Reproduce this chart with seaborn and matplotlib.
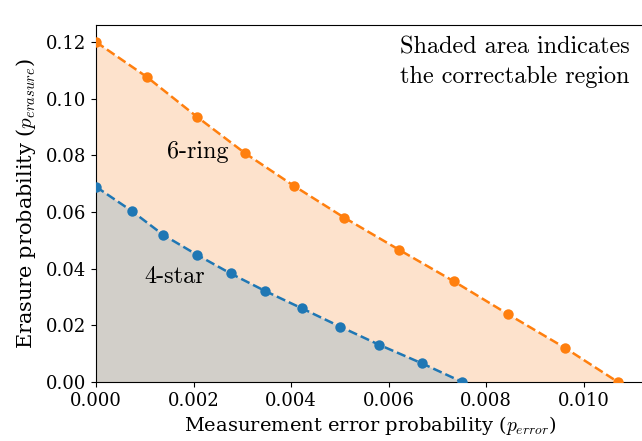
import numpy as np
import pandas as pd
import matplotlib
matplotlib.use("Agg")
import matplotlib.pyplot as plt
import seaborn as sns

# Data
ring_x = [0.0000, 0.00104, 0.00207, 0.00306, 0.00406, 0.00509, 0.00622, 0.00733, 0.00845, 0.00961, 0.0107]
ring_y = [0.1200, 0.1077, 0.0936, 0.0807, 0.0692, 0.0580, 0.0466, 0.0356, 0.0239, 0.0121, 0.0000]
star_x = [0.0000, 0.00073, 0.00138, 0.00208, 0.00276, 0.00347, 0.00422, 0.00501, 0.00581, 0.00668, 0.00751]
star_y = [0.0689, 0.0604, 0.0519, 0.0448, 0.0383, 0.0321, 0.0260, 0.0195, 0.0131, 0.0066, 0.0000]
labels = ["6-ring", "4-star"]
x_ticks = [0.000, 0.002, 0.004, 0.006, 0.008, 0.010]
y_ticks = [0.00, 0.02, 0.04, 0.06, 0.08, 0.10, 0.12]

plt.rcParams["font.family"] = ["DejaVu Serif"]
plt.rcParams["mathtext.fontset"] = "cm"

fig = plt.figure(figsize=(6.42, 4.41), dpi=100)
ax = fig.add_axes([96/642, 1-382/441, 548/642, (382-25)/441])

orange = "#ff7f0e"
blue = "#1f77b4"

ax.fill_between(ring_x, ring_y, 0, color="#fde2cc", lw=0, zorder=1)
ax.fill_between(star_x, star_y, 0, color="#d2cfc9", lw=0, zorder=1)

df_ring = pd.DataFrame({"x": ring_x, "y": ring_y})
df_star = pd.DataFrame({"x": star_x, "y": star_y})
sns.lineplot(data=df_ring, x="x", y="y", ax=ax, color=orange, linestyle="--",
             marker="o", markersize=7.5, markeredgewidth=0, lw=1.8, zorder=3)
sns.lineplot(data=df_star, x="x", y="y", ax=ax, color=blue, linestyle="--",
             marker="o", markersize=7.5, markeredgewidth=0, lw=1.8, zorder=3)

ax.set_xlim(0, 0.011235)
ax.set_ylim(0, 0.126)
ax.set_xticks(x_ticks)
ax.set_yticks(y_ticks)
ax.set_xticklabels([f"{v:.3f}" for v in x_ticks])
ax.set_yticklabels([f"{v:.2f}" for v in y_ticks])
ax.tick_params(labelsize=13)

ax.set_xlabel(r"Measurement error probability ($p_{error}$)", fontsize=14, labelpad=3)
ax.set_ylabel(r"Erasure probability ($p_{erasure}$)", fontsize=15, labelpad=6)

ax.text(0.00623, 0.1221, "Shaded area indicates\nthe correctable region",
        fontsize=17.4, family="cmr10", va="top", ha="left", linespacing=1.45)
ax.text(0.00146, 0.0811, labels[0], fontsize=17.4, family="cmr10", va="center", ha="left")
ax.text(0.00099, 0.0370, labels[1], fontsize=17.4, family="cmr10", va="center", ha="left")

fig.savefig("out.png", dpi=100)
